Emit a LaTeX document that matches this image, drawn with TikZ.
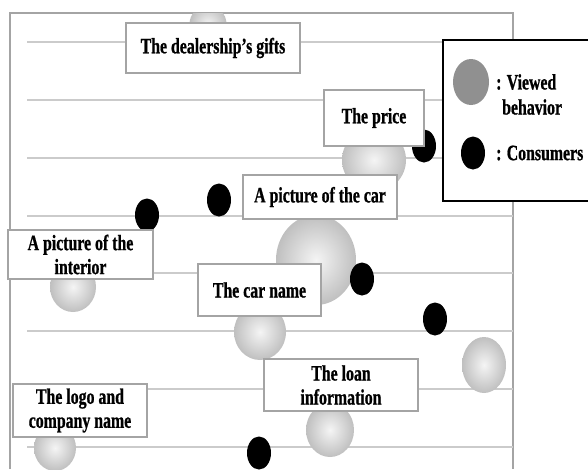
\documentclass[tikz,border=0pt]{standalone}
\usepackage{fontspec}
\usetikzlibrary{shapes.geometric}
\newfontfamily\lblfamily{Liberation Serif}[FakeStretch=0.72, BoldFeatures={FakeBold=0.8}]
\newcommand{\lblfont}{\lblfamily\bfseries\fontsize{22}{24}\selectfont}
\definecolor{framegray}{HTML}{A4A4A4}
\definecolor{gridgray}{HTML}{CBCBCB}
\definecolor{legendgray}{HTML}{909090}
\tikzset{
  lbl/.style={draw=framegray, line width=1.5pt, fill=white, font=\lblfont,
    align=center, inner sep=0pt},
  gridline/.style={draw=gridgray, line width=1.5pt},
  sphere/.style={shape=ellipse, inner sep=0pt, shading=radial,
    inner color=gray!8, outer color=gray!50},
  dot/.style={shape=ellipse, inner sep=0pt, fill=black,
    minimum width=24pt, minimum height=33pt},
  legendtext/.style={font=\lblfont, anchor=west, inner sep=0pt}
}
\begin{document}
\begin{tikzpicture}[x=1pt, y=-1pt]
  \useasboundingbox (0,0) rectangle (588,469);
  % plot area frame
  \coordinate (fbl) at (10,469);
  \coordinate (ftl) at (10,13);
  \coordinate (ftr) at (513,13);
  \coordinate (fbr) at (513,469);
  \draw[draw=framegray, line width=1.5pt] (fbl) -- (ftl) -- (ftr) -- (fbr);
  % horizontal rows
  \foreach \yy in {42,100,158,216,273,331,389,447} {
    \draw[gridline] (27,\yy) -- (513,\yy);
  }
  % viewed behaviour (shaded spheres)
  \begin{scope}
    \clip (10,13) rectangle (513,469);
    \node[sphere, minimum width=37pt, minimum height=37pt] (s0) at (208,24) {};
  \end{scope}
  \node[sphere, minimum width=64pt, minimum height=64pt] (s1) at (374,160) {};
  \node[sphere, minimum width=80pt, minimum height=90pt] (s2) at (316,260) {};
  \node[sphere, minimum width=46pt, minimum height=50pt] (s3) at (73,287) {};
  \node[sphere, minimum width=52pt, minimum height=56pt] (s4) at (260,332) {};
  \node[sphere, minimum width=44pt, minimum height=56pt] (s5) at (484,365) {};
  \node[sphere, minimum width=48pt, minimum height=54pt] (s6) at (330,430) {};
  \node[sphere, minimum width=42pt, minimum height=46pt] (s7) at (55,448) {};
  % consumers (black dots)
  \node[dot] (c1) at (147,215) {};
  \node[dot] (c2) at (219,200) {};
  \node[dot] (c3) at (424,146) {};
  \node[dot] (c4) at (362,279) {};
  \node[dot] (c5) at (435,319) {};
  \node[dot] (c6) at (259,453) {};
  % element labels
  \node[lbl, minimum width=174pt, minimum height=50pt] (gifts) at (213,48) {The dealership’s gifts};
  \node[lbl, minimum width=100pt, minimum height=56pt] (price) at (374,118) {The price};
  \node[lbl, minimum width=154pt, minimum height=44pt] (carpic) at (320,197) {A picture of the car};
  \node[lbl, minimum width=145pt, minimum height=49pt] (interior) at (80.5,254.5) {A picture of the\\interior};
  \node[lbl, minimum width=123pt, minimum height=52pt] (carname) at (259.5,290) {The car name};
  \node[lbl, minimum width=154pt, minimum height=52pt] (loan) at (341,385) {The loan\\information};
  \node[lbl, minimum width=134pt, minimum height=53pt] (logo) at (80,410.5) {The logo and\\company name};
  % legend
  \coordinate (ltl) at (443,40);
  \coordinate (lbr) at (600,201);
  \draw[black, line width=2pt, fill=white] (ltl) rectangle (lbr);
  \node[shape=ellipse, inner sep=0pt, fill=legendgray, minimum width=36pt, minimum height=46pt] (kview) at (471,82) {};
  \node[dot] (kcons) at (473,153) {};
  \node[legendtext] (tview) at (496,82) {: Viewed};
  \node[legendtext] (tbeh) at (502,107) {behavior};
  \node[legendtext] (tcons) at (496,153) {: Consumers};
\end{tikzpicture}
\end{document}
